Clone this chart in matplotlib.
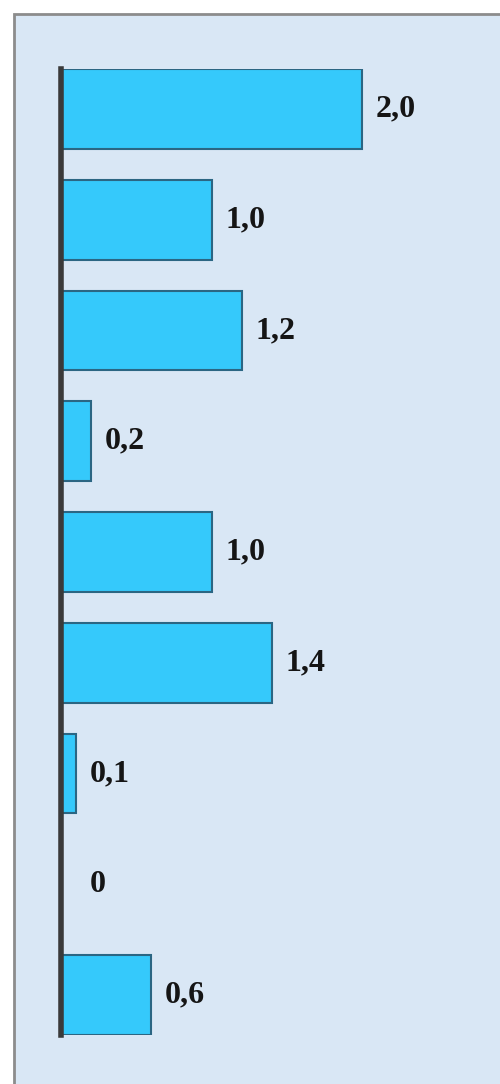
import matplotlib
matplotlib.use('Agg')
import matplotlib.pyplot as plt
from matplotlib.patches import Rectangle
import numpy as np


values = [2.0, 1.0, 1.2, 0.2, 1.0, 1.4, 0.1, 0.0, 0.6]
labels = ['2,0', '1,0', '1,2', '0,2', '1,0', '1,4', '0,1', '0', '0,6']

y = np.arange(len(values))  # row positions, top to bottom
height = 0.72  # bar thickness

fig = plt.figure(figsize=(5, 10.84), dpi=100)
fig.patch.set_facecolor('white')

# light blue panel with grey border, runs off the right and bottom edges
panel = Rectangle((14 / 500, -0.01), 1.0, 1 - 14 / 1084 + 0.01, transform=fig.transFigure,
                  facecolor='#d9e7f5', edgecolor='#8c8c8c', linewidth=2, zorder=-1)
fig.patches.append(panel)

ax = fig.add_axes([61 / 500, 49 / 1084, 436.5 / 500, 966 / 1084])
ax.set_facecolor('none')

bars = ax.barh(y, values, height, color='#35c9fb', edgecolor='#2b6683', linewidth=1.5, zorder=2)

ax.set_xlim(0, 2.9)
ax.set_ylim(len(values) - 1 + height / 2, -height / 2)

for s in ['top', 'right', 'bottom']:
    ax.spines[s].set_visible(False)
ax.spines['left'].set_linewidth(4)
ax.spines['left'].set_color('#3a3a3a')
ax.spines['left'].set_zorder(3)
ax.set_xticks([])
ax.set_yticks([])

# value labels to the right of each bar
for yi, v, lab in zip(y, values, labels):
    ax.annotate(lab, xy=(max(v, 0.1), yi), xytext=(10, 0), textcoords='offset points',
                ha='left', va='center', fontsize=23, fontweight='bold',
                family='Liberation Serif', color='#151515')

fig.savefig('out.png', dpi=100)
